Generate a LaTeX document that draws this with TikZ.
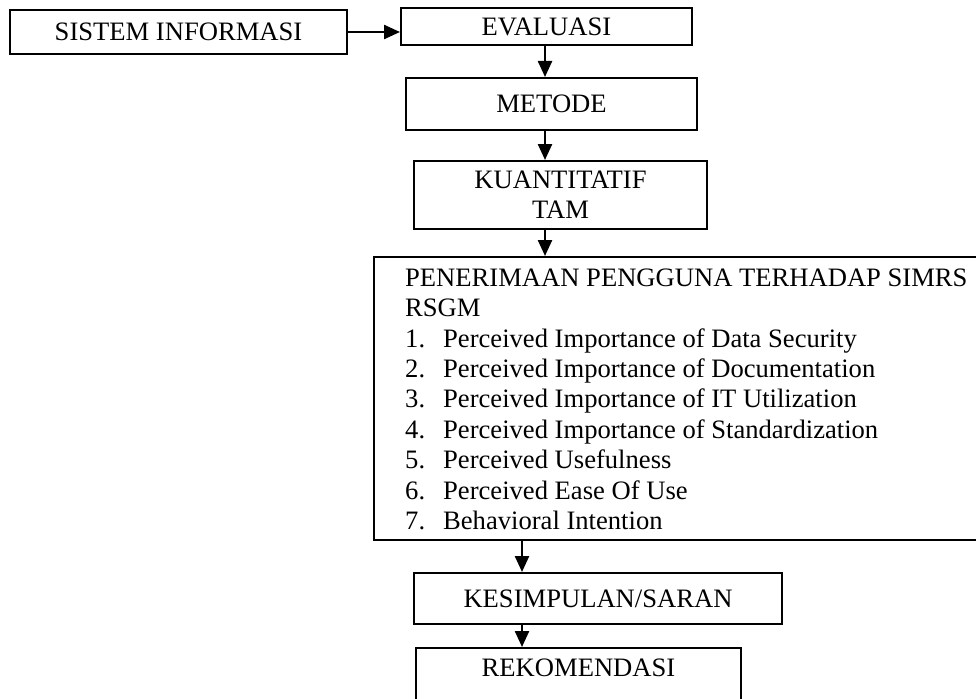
\documentclass[tikz,border=0pt]{standalone}
\usepackage{fontspec}
\setmainfont{Liberation Serif}
\usetikzlibrary{arrows.meta}
\begin{document}
\begin{tikzpicture}[x=1pt,y=-1pt,
  box/.style={draw=black,line width=2pt,rectangle,inner sep=0pt,
    font=\fontsize{26.6}{30.4}\selectfont},
  arr/.style={line width=2.4pt,-{Triangle[width=14pt,length=16pt]}},
  txt/.style={inner sep=0pt,font=\fontsize{26.6}{30.4}\selectfont}]
\useasboundingbox (0,0) rectangle (976,698);
\clip (0,0) rectangle (976,698);
\node[box,minimum width=337pt,minimum height=44pt] (sis) at (178.5,32) {SISTEM INFORMASI};
\node[box,minimum width=291pt,minimum height=37pt] (eva) at (546.5,26.5) {EVALUASI};
\node[box,minimum width=291pt,minimum height=52pt] (met) at (551.5,104) {METODE};
\node[box,minimum width=293pt,minimum height=68pt,align=center] (kua) at (560.5,195) {KUANTITATIF\\TAM};
\node[box,minimum width=611pt,minimum height=283pt] (big) at (679.5,398.5) {};
\node[txt,anchor=north west,align=left] (bigtxt) at (405,268.5) {PENERIMAAN PENGGUNA TERHADAP SIMRS\\
RSGM\\
\makebox[38pt][l]{1.}Perceived Importance of Data Security\\
\makebox[38pt][l]{2.}Perceived Importance of Documentation\\
\makebox[38pt][l]{3.}Perceived Importance of IT Utilization\\
\makebox[38pt][l]{4.}Perceived Importance of Standardization\\
\makebox[38pt][l]{5.}Perceived Usefulness\\
\makebox[38pt][l]{6.}Perceived Ease Of Use\\
\makebox[38pt][l]{7.}Behavioral Intention};
\node[box,minimum width=368pt,minimum height=51pt,text height=17.5pt,text depth=0pt] (kes) at (598,598.5) {KESIMPULAN/SARAN};
\node[box,minimum width=325pt,minimum height=84pt] (rek) at (578.5,690) {};
\node[txt] (rektxt) at (578.5,668) {REKOMENDASI};
\coordinate (c1) at (545,0);
\coordinate (c2) at (522,0);
\draw[arr] (sis.east) -- (sis.east -| eva.west);
\draw[arr] (eva.south -| c1) -- (met.north -| c1);
\draw[arr] (met.south -| c1) -- (kua.north -| c1);
\draw[arr] (kua.south -| c1) -- (big.north -| c1);
\draw[arr] (big.south -| c2) -- (kes.north -| c2);
\draw[arr] (kes.south -| c2) -- (rek.north -| c2);
\end{tikzpicture}
\end{document}
